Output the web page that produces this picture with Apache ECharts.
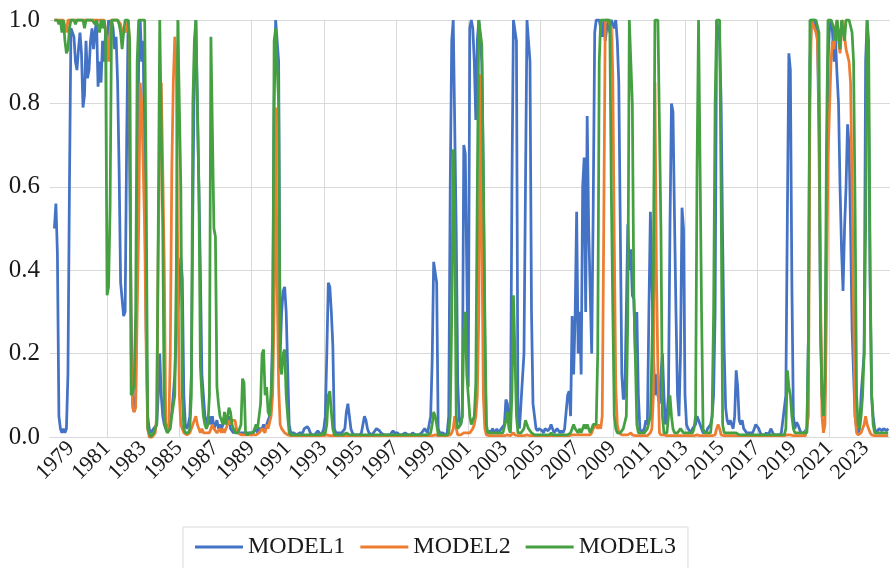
<!DOCTYPE html>
<html><head><meta charset="utf-8">
<script src="https://cdn.jsdelivr.net/npm/echarts@6/dist/echarts.min.js"></script>
<style>html,body{margin:0;padding:0;background:#fff}#c{width:892px;height:568px}</style>
</head><body><div id="c"></div>
<script>
// Monthly values, first value = Feb 1978
const startYear = 1978, startMonth = 2;
const seriesNames = ['MODEL1', 'MODEL2', 'MODEL3'];
const model1 = [
0.5,0.56,0.44,0.05,0.02,0.01,0.02,0.01,0.02,0.15,0.6,
0.98,0.98,0.96,0.9,0.88,0.93,0.97,0.92,0.79,0.82,0.95,0.86,
0.88,0.95,0.98,0.93,0.97,1,0.84,0.9,0.85,0.95,0.9,0.97,
0.95,1,0.97,1,0.98,0.93,0.96,0.85,0.64,0.37,0.33,0.29,
0.3,0.7,1,1,0.3,0.08,0.06,0.1,0.52,0.9,1,0.9,
0.95,0.6,0.25,0.05,0.02,0.01,0.01,0.02,0.02,0.03,0.1,0.2,
0.1,0.05,0.03,0.02,0.02,0.03,0.04,0.06,0.1,0.15,0.25,0.3,
0.35,0.43,0.38,0.1,0.03,0.02,0.03,0.05,0.15,0.55,0.9,1,
1,0.6,0.4,0.15,0.1,0.05,0.04,0.03,0.05,0.03,0.05,0.02,
0.02,0.04,0.02,0.03,0.02,0.03,0.03,0.04,0.03,0.05,0.02,0.02,
0.01,0.01,0.02,0.01,0.01,0.01,0.01,0.01,0.01,0.01,0.01,0.01,
0.01,0.01,0.01,0.02,0.01,0.02,0.02,0.02,0.03,0.02,0.03,0.04,
0.05,0.1,0.25,0.8,1,1,0.9,0.2,0.3,0.35,0.36,0.3,
0.3,0.03,0.01,0.01,0.01,0.01,0.005,0.005,0.01,0.01,0.01,0.02,
0.02,0.025,0.02,0.01,0.005,0.005,0.005,0.01,0.015,0.01,0.005,0.01,
0.02,0.05,0.2,0.37,0.36,0.3,0.22,0.02,0.01,0.01,0.01,0.01,
0.01,0.01,0.02,0.06,0.08,0.05,0.02,0.01,0.005,0.005,0.005,0.005,
0.005,0.01,0.03,0.05,0.04,0.02,0.01,0.01,0.005,0.01,0.015,0.02,
0.02,0.015,0.01,0.01,0.005,0.005,0.005,0.005,0.005,0.01,0.015,0.01,
0.01,0.01,0.005,0.005,0.005,0.005,0.01,0.01,0.005,0.005,0.005,0.01,
0.01,0.005,0.005,0.005,0.005,0.01,0.01,0.02,0.02,0.01,0.03,0.05,
0.18,0.42,0.42,0.37,0.02,0.01,0.01,0.01,0.01,0.005,0.01,0.05,
0.6,0.95,1,1,0.49,0.13,0.04,0.03,0.05,0.7,0.68,0.4,
0.12,0.98,1,0.98,0.9,0.76,0.95,1,1,0.9,0.63,0.2,
0.02,0.01,0.015,0.01,0.02,0.015,0.01,0.02,0.01,0.015,0.02,0.02,
0.03,0.09,0.08,0.03,0.02,0.6,1,1,0.95,0.05,0.02,0.08,
0.08,0.2,0.6,1,1,0.9,0.3,0.08,0.05,0.02,0.015,0.02,
0.02,0.015,0.01,0.02,0.02,0.015,0.02,0.03,0.02,0.01,0.015,0.02,
0.02,0.01,0.015,0.01,0.02,0.02,0.1,0.11,0.05,0.29,0.15,0.29,
0.54,0.2,0.3,0.15,0.6,0.67,0.3,0.77,0.5,0.35,0.2,0.55,
0.97,1,1,1,0.98,0.96,1,0.95,0.98,1,0.97,1,
1,0.98,1,0.95,0.85,0.5,0.15,0.09,0.1,0.3,0.51,0.4,
0.45,0.34,0.33,0.2,0.3,0.1,0.02,0.01,0.01,0.02,0.04,0.03,
0.3,0.54,0.38,0.2,0.1,0.15,0.1,0.08,0.15,0.2,0.1,0.03,
0.05,0.1,0.5,0.8,0.78,0.53,0.3,0.1,0.05,0.2,0.55,0.5,
0.1,0.03,0.02,0.02,0.01,0.02,0.02,0.03,0.05,0.04,0.03,0.02,
0.01,0.01,0.01,0.02,0.02,0.03,0.05,0.1,0.3,1,1,0.95,
0.8,0.47,0.21,0.07,0.04,0.03,0.04,0.03,0.02,0.05,0.16,0.12,
0.04,0.03,0.04,0.02,0.02,0.01,0.01,0.01,0.01,0.01,0.02,0.03,
0.03,0.02,0.01,0.005,0.005,0.005,0.01,0.005,0.01,0.02,0.02,0.005,
0.005,0.005,0.005,0.005,0.01,0.04,0.04,0.1,0.53,0.92,0.88,0.37,
0.05,0.02,0.035,0.03,0.02,0.01,0.01,0.01,0.01,0.02,0.24,0.9,
1,1,1,0.98,0.97,0.72,0.3,0.1,0.05,0.1,0.5,0.9,
0.98,1,0.97,0.9,0.95,0.87,0.8,0.6,0.45,0.35,0.5,0.6,
0.75,0.7,0.5,0.26,0.15,0.05,0.02,0.01,0.02,0.1,0.15,0.2,
0.9,1,0.8,0.36,0.1,0.05,0.02,0.01,0.01,0.02,0.02,0.015,
0.02,0.02,0.015,0.02
];
const model2 = [
1,1,1,1,1,1,1,1,0.97,1,1,
1,1,1,1,1,1,1,1,1,1,1,1,
1,1,1,1,1,1,1,1,1,1,1,1,
0.95,0.9,0.97,1,1,1,1,1,1,0.99,0.97,0.98,
0.97,0.98,1,0.95,0.2,0.07,0.06,0.07,0.3,0.5,0.85,0.8,
0.8,0.5,0.2,0.02,0,0,0,0,0.01,0.05,0.45,0.7,
0.85,0.64,0.41,0.03,0.01,0.02,0.2,0.64,0.85,0.96,0.9,0.4,
0.1,0.03,0.02,0.01,0.01,0.005,0.005,0.01,0.02,0.03,0.04,0.05,
0.03,0.02,0.01,0.02,0.01,0.01,0.01,0.01,0.01,0.02,0.03,0.02,
0.02,0.01,0.01,0.02,0.01,0.02,0.01,0.02,0.03,0.04,0.03,0.04,
0.04,0.04,0.02,0.01,0.01,0.005,0.005,0.005,0.005,0.005,0.005,0.005,
0.005,0.005,0.005,0.005,0.005,0.01,0.01,0.02,0.02,0.01,0.03,0.02,
0.02,0.05,0.1,0.3,0.79,0.37,0.12,0.03,0.02,0.02,0.01,0.01,
0.005,0.005,0.003,0.003,0.003,0.003,0.003,0.003,0.003,0.003,0.003,0.003,
0.003,0.003,0.003,0.003,0.003,0.003,0.003,0.003,0.003,0.003,0.003,0.003,
0.003,0.003,0.005,0.005,0.003,0.003,0.003,0.003,0.003,0.003,0.003,0.003,
0.003,0.003,0.003,0.003,0.003,0.003,0.003,0.003,0.003,0.003,0.003,0.003,
0.003,0.003,0.003,0.003,0.003,0.003,0.003,0.003,0.003,0.003,0.003,0.003,
0.003,0.003,0.003,0.003,0.003,0.003,0.003,0.003,0.003,0.003,0.003,0.003,
0.003,0.003,0.003,0.003,0.003,0.003,0.003,0.003,0.003,0.003,0.003,0.003,
0.003,0.003,0.003,0.003,0.003,0.003,0.003,0.003,0.003,0.003,0.003,0.003,
0.003,0.005,0.005,0.003,0.003,0.003,0.003,0.003,0.003,0.003,0.003,0.003,
0.005,0.01,0.02,0.05,0.02,0.005,0.005,0.005,0.005,0.01,0.01,0.01,
0.01,0.01,0.01,0.02,0.03,0.05,0.1,0.3,0.87,0.5,0.1,0.02,
0.005,0.003,0.003,0.003,0.003,0.003,0.003,0.003,0.003,0.003,0.003,0.003,
0.003,0.005,0.005,0.003,0.003,0.005,0.01,0.005,0.003,0.003,0.003,0.003,
0.003,0.003,0.003,0.005,0.005,0.003,0.003,0.003,0.003,0.003,0.003,0.003,
0.003,0.003,0.003,0.003,0.003,0.003,0.003,0.003,0.003,0.003,0.003,0.003,
0.003,0.003,0.003,0.003,0.003,0.003,0.003,0.003,0.003,0.005,0.005,0.005,
0.005,0.005,0.005,0.005,0.005,0.005,0.005,0.005,0.005,0.005,0.01,0.02,
0.02,0.03,0.02,0.03,0.02,0.05,0.5,1,1,1,1,0.98,
0.87,0.47,0.12,0.03,0.01,0.01,0.005,0.005,0.005,0.005,0.005,0.005,
0.01,0.005,0.003,0.003,0.003,0.003,0.003,0.003,0.003,0.003,0.003,0.003,
0.005,0.01,0.02,0.1,0.85,0.4,0.16,0.01,0.005,0.005,0.005,0.005,
0.003,0.003,0.003,0.003,0.003,0.003,0.003,0.003,0.003,0.003,0.003,0.003,
0.003,0.003,0.003,0.003,0.003,0.003,0.003,0.003,0.005,0.003,0.003,0.003,
0.003,0.003,0.003,0.003,0.003,0.003,0.003,0.003,0.005,0.02,0.03,0.02,
0.005,0.003,0.003,0.003,0.003,0.003,0.003,0.003,0.003,0.003,0.003,0.003,
0.003,0.003,0.003,0.003,0.003,0.003,0.003,0.003,0.003,0.003,0.003,0.003,
0.003,0.003,0.003,0.003,0.003,0.003,0.003,0.003,0.003,0.003,0.003,0.003,
0.003,0.003,0.003,0.003,0.003,0.003,0.003,0.003,0.005,0.005,0.005,0.003,
0.003,0.003,0.003,0.003,0.003,0.003,0.003,0.003,0.003,0.003,0.05,0.8,
1,1,0.98,0.97,0.95,0.8,0.37,0.05,0.01,0.03,0.3,0.67,
0.67,0.9,0.95,0.93,0.98,1,0.95,0.92,0.97,1,0.96,0.93,
0.93,0.9,0.85,0.6,0.3,0.05,0.01,0.005,0.005,0.01,0.02,0.03,
0.05,0.03,0.02,0.01,0.005,0.005,0.003,0.003,0.003,0.003,0.003,0.003,
0.003,0.003,0.003,0.003
];
const model3 = [
1,1,1,0.99,1,0.97,1,0.95,0.92,0.93,0.98,
1,1,1,0.99,1,1,1,1,1,0.98,1,1,
1,1,1,1,0.99,1,1,0.97,1,0.98,1,0.97,
0.34,0.36,0.55,1,1,1,1,1,0.99,0.97,0.93,0.97,
1,1,1,0.95,0.1,0.1,0.12,0.3,0.9,1,1,1,
1,1,0.6,0.02,0.01,0,0,0.01,0.01,0.03,0.5,1,
1,0.5,0.05,0.02,0.01,0.01,0.02,0.05,0.05,0.1,0.4,1,
1,0.6,0.1,0.02,0.01,0.01,0.01,0.02,0.1,0.8,0.95,1,
1,0.6,0.17,0.1,0.05,0.03,0.02,0.03,0.1,0.96,0.96,0.5,
0.48,0.12,0.08,0.05,0.04,0.03,0.06,0.03,0.05,0.07,0.06,0.03,
0.02,0.01,0.01,0.01,0.02,0.03,0.14,0.13,0.01,0.005,0.005,0.01,
0.01,0.01,0.02,0.03,0.02,0.05,0.08,0.2,0.21,0.1,0.12,0.06,
0.05,0.1,0.2,0.95,0.98,0.98,0.8,0.17,0.15,0.2,0.21,0.1,
0.05,0.01,0.005,0.005,0.005,0.005,0.005,0.005,0.005,0.005,0.005,0.005,
0.005,0.005,0.005,0.005,0.005,0.005,0.005,0.005,0.005,0.005,0.005,0.01,
0.005,0.01,0.03,0.1,0.11,0.06,0.02,0.005,0.005,0.005,0.005,0.005,
0.005,0.005,0.005,0.01,0.01,0.005,0.005,0.005,0.005,0.005,0.005,0.005,
0.005,0.005,0.005,0.005,0.005,0.005,0.005,0.005,0.005,0.005,0.005,0.005,
0.005,0.005,0.005,0.005,0.005,0.005,0.005,0.005,0.005,0.005,0.005,0.005,
0.005,0.005,0.005,0.005,0.005,0.005,0.005,0.005,0.005,0.005,0.005,0.005,
0.005,0.005,0.005,0.005,0.005,0.005,0.005,0.005,0.005,0.005,0.005,0.01,
0.03,0.06,0.05,0.03,0.005,0.005,0.005,0.005,0.005,0.005,0.005,0.01,
0.05,0.29,0.69,0.5,0.05,0.02,0.02,0.03,0.05,0.25,0.3,0.15,
0.1,0.05,0.03,0.04,0.05,0.13,0.6,1,1,0.94,0.63,0.3,
0.03,0.01,0.01,0.01,0.01,0.01,0.01,0.01,0.01,0.01,0.01,0.01,
0.01,0.04,0.06,0.02,0.01,0.1,0.34,0.2,0.05,0.01,0.01,0.01,
0.01,0.02,0.04,0.03,0.02,0.02,0.01,0.01,0.005,0.005,0.005,0.005,
0.005,0.005,0.005,0.005,0.005,0.005,0.005,0.01,0.005,0.005,0.005,0.005,
0.005,0.005,0.005,0.005,0.005,0.005,0.005,0.005,0.01,0.02,0.03,0.02,
0.02,0.01,0.02,0.01,0.02,0.03,0.02,0.03,0.02,0.01,0.02,0.03,
0.03,0.03,0.2,0.9,1,1,1,1,1,1,1,0.6,
0.31,0.05,0.02,0.01,0.01,0.01,0.01,0.02,0.02,0.05,0.3,1,
1,0.8,0.34,0.19,0.03,0.01,0.01,0.01,0.01,0.01,0.01,0.02,
0.02,0.05,0.2,0.4,1,1,1,1,0.5,0.05,0.01,0.01,
0.01,0.05,0.1,0.05,0.02,0.01,0.01,0.01,0.01,0.02,0.02,0.01,
0.01,0.01,0.01,0.01,0.01,0.01,0.02,0.05,0.65,1,1,0.3,
0.02,0.01,0.01,0.01,0.01,0.01,0.05,0.3,0.8,1,1,1,
0.58,0.03,0.01,0.01,0.01,0.01,0.01,0.01,0.01,0.01,0.01,0.01,
0.005,0.005,0.005,0.005,0.005,0.005,0.005,0.005,0.005,0.005,0.005,0.005,
0.005,0.005,0.005,0.005,0.005,0.005,0.005,0.005,0.005,0.005,0.005,0.005,
0.005,0.005,0.005,0.005,0.005,0.005,0.005,0.02,0.16,0.12,0.1,0.05,
0.02,0.01,0.01,0.01,0.01,0.01,0.01,0.01,0.01,0.01,0.24,1,
1,1,1,1,1,0.97,0.25,0.1,0.05,0.15,0.7,1,
1,1,1,0.98,0.95,1,0.97,0.93,1,1,0.95,1,
1,1,1,0.97,0.9,0.55,0.1,0.03,0.02,0.05,0.1,0.2,
0.5,1,0.95,0.4,0.1,0.03,0.01,0.01,0.01,0.01,0.01,0.01,
0.01,0.01,0.01,0.01
];
const yearLabels = [1979,1981,1983,1985,1987,1989,1991,1993,1995,1997,1999,2001,2003,2005,2007,2009,2011,2013,2015,2017,2019,2021,2023];
const gridYears = [1981,1985,1989,1993,1997,2001,2005,2009,2013,2017,2021];
const colors = ['#4472C4', '#ED7D31', '#45A042'];

function toXY(arr) {
  return arr.map((v, i) => [startYear + (startMonth - 1 + i) / 12, v]);
}
const FONT = "'Liberation Serif','Times New Roman',serif";
const chart = echarts.init(document.getElementById('c'), null, {renderer: 'canvas'});
const allData = [model1, model2, model3];
chart.setOption({
  animation: false,
  backgroundColor: '#ffffff',
  color: colors,
  grid: {left: 50, right: 2, top: 20, bottom: 131, containLabel: false},
  legend: {
    data: seriesNames,
    left: 183, top: 527,
    itemWidth: 48, itemHeight: 3, icon: 'rect', itemGap: 15,
    textStyle: {fontSize: 24, fontFamily: FONT, color: '#1a1a1a'},
    borderColor: '#d9d9d9', borderWidth: 1,
    padding: [8, 12, 14, 12]
  },
  xAxis: {
    type: 'value', min: 1977.84, max: 2024.35,
    axisLine: {show: true, lineStyle: {color: '#d9d9d9', width: 1}},
    axisTick: {show: false, customValues: gridYears},
    axisLabel: {
      customValues: yearLabels, rotate: 45, fontSize: 22, fontFamily: FONT,
      color: '#1a1a1a', margin: 8, formatter: v => String(v)
    },
    splitLine: {show: true, lineStyle: {color: '#d9d9d9', width: 1}}
  },
  yAxis: {
    type: 'value', min: 0, max: 1, interval: 0.2,
    axisLine: {show: false}, axisTick: {show: false},
    axisLabel: {fontSize: 25, fontFamily: FONT, color: '#1a1a1a', margin: 10,
      formatter: v => v.toFixed(1)},
    splitLine: {show: true, lineStyle: {color: '#d9d9d9', width: 1}}
  },
  series: allData.map((d, k) => ({
    name: seriesNames[k], type: 'line', data: toXY(d),
    showSymbol: false, symbol: 'none', clip: false,
    lineStyle: {width: 2.75, color: colors[k]},
    itemStyle: {color: colors[k]},
    z: 2 + k
  }))
});
</script>
</body></html>
